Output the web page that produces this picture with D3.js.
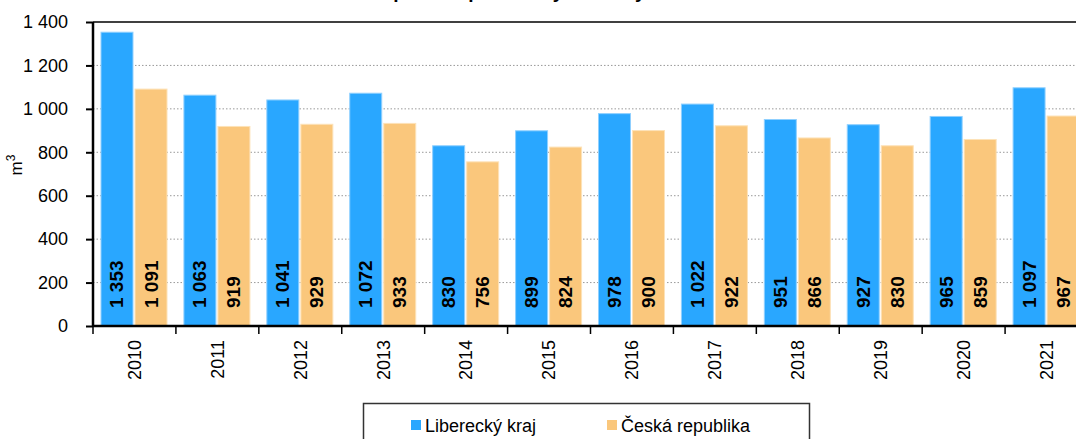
<!DOCTYPE html>
<html>
<head>
<meta charset="utf-8">
<script src="https://cdn.jsdelivr.net/npm/d3@7"></script>
<style>
  body { margin: 0; background: #fff; }
  svg { font-family: "Liberation Sans", Arial, sans-serif; display: block; }
  .grid line { stroke: #999; stroke-dasharray: 1.5 2; }
</style>
</head>
<body>
<div id="root"></div>
<script>
const years = ["2010", "2011", "2012", "2013", "2014", "2015", "2016", "2017", "2018", "2019", "2020", "2021"];
const liberec = [1353, 1063, 1041, 1072, 830, 899, 978, 1022, 951, 927, 965, 1097];
const cesko = [1091, 919, 929, 933, 756, 824, 900, 922, 866, 830, 859, 967];
const seriesNames = ["Liberecký kraj", "Česká republika"];
const colors = ["#29a7ff", "#fac77c"];
const yTicks = [0, 200, 400, 600, 800, 1000, 1200, 1400];

const outerWidth = 1076;
const outerHeight = 439;
const margin = { top: 22, left: 93, bottom: 113 };
const plotWidth = 995;
const height = outerHeight - margin.top - margin.bottom;

const fmt = v => d3.format(",")(v).replace(/,/g, " ");

let svg = d3.select("#root")
            .append("svg")
            .attr("width", outerWidth)
            .attr("height", outerHeight);

// title, mostly cut off by the top edge
svg.append("text")
   .attr("x", 540)
   .attr("y", -2)
   .attr("text-anchor", "middle")
   .style("font-size", "19px")
   .style("font-weight", "bold")
   .text("Spotřeba pitné vody na 1 obyvatele");

let chart = svg.append("g")
               .attr("transform", `translate(${margin.left}, ${margin.top})`);

let scaleY = d3.scaleLinear().domain([0, 1400]).range([height, 0]);
let scaleX = d3.scaleBand().domain(years).range([0, plotWidth]);
let scaleSub = d3.scaleBand().domain([0, 1]).range([8, 74]).paddingInner(0.06);

// gridlines
chart.append("g")
     .attr("class", "grid")
     .selectAll("line")
     .data(yTicks.filter(t => t > 0 && t < 1400))
     .enter().append("line")
       .attr("x1", 0)
       .attr("x2", plotWidth)
       .attr("y1", d => scaleY(d))
       .attr("y2", d => scaleY(d));

// bars
const rows = years.map((y, i) => ({ year: y, vals: [liberec[i], cesko[i]] }));
let group = chart.selectAll(".year")
                 .data(rows)
                 .enter().append("g")
                 .attr("class", "year")
                 .attr("transform", d => `translate(${scaleX(d.year)}, 0)`);

let bar = group.selectAll(".bar")
               .data(d => d.vals.map((v, k) => ({ v, k })))
               .enter().append("g")
               .attr("class", "bar");

bar.append("rect")
   .attr("x", d => scaleSub(d.k))
   .attr("width", scaleSub.bandwidth())
   .attr("y", d => scaleY(d.v))
   .attr("height", d => height - scaleY(d.v))
   .attr("fill", d => colors[d.k])
   .attr("stroke", d => d.k === 0 ? "#8fd0ff" : "#fde2b8")
   .attr("stroke-width", 1);

bar.append("text")
   .attr("transform", d => `translate(${scaleSub(d.k) + scaleSub.bandwidth() / 2 + 6.5}, ${height - 18}) rotate(-90)`)
   .style("font-size", "19px")
   .style("font-weight", "bold")
   .text(d => fmt(d.v));

// axes
let yAxis = d3.axisLeft(scaleY).tickValues(yTicks).tickSize(7).tickFormat(fmt);
let yG = chart.append("g").call(yAxis);
yG.select(".domain").remove();
yG.selectAll(".tick line").attr("stroke", "#000").attr("stroke-width", 2);
yG.selectAll(".tick text")
  .attr("x", -25)
  .style("font-size", "18px")
  .style("font-family", "Liberation Sans, Arial, sans-serif")
  .attr("fill", "#000");

let xAxis = d3.axisBottom(scaleX).tickSize(0).tickFormat(d => d);
let xG = chart.append("g")
              .attr("transform", `translate(0, ${height})`)
              .call(xAxis);
xG.select(".domain").remove();
xG.selectAll(".tick text")
  .attr("transform", "rotate(-90)")
  .attr("x", -14)
  .attr("y", 0)
  .attr("dy", "0.35em")
  .style("text-anchor", "end")
  .style("font-size", "18px")
  .style("font-family", "Liberation Sans, Arial, sans-serif")
  .attr("fill", "#000");

// category separator ticks
chart.append("g")
     .selectAll("line")
     .data(years.concat(["end"]))
     .enter().append("line")
       .attr("x1", (d, i) => i * scaleX.step())
       .attr("x2", (d, i) => i * scaleX.step())
       .attr("y1", height)
       .attr("y2", height + 8)
       .attr("stroke", "#000")
       .attr("stroke-width", 1.5);

// frame
chart.append("line").attr("x1", 0).attr("x2", plotWidth).attr("y1", height).attr("y2", height)
     .attr("stroke", "#000").attr("stroke-width", 2.5);
chart.append("line").attr("x1", 0).attr("x2", 0).attr("y1", 0).attr("y2", height)
     .attr("stroke", "#000").attr("stroke-width", 2.5);
chart.append("line").attr("x1", 0).attr("x2", plotWidth).attr("y1", 0).attr("y2", 0)
     .attr("stroke", "#000").attr("stroke-width", 1.5);

// y axis title
svg.append("text")
   .attr("transform", "translate(22, 165) rotate(-90)")
   .style("text-anchor", "middle")
   .style("font-size", "17px")
   .html("m<tspan dy='-7' font-size='12px'>3</tspan>");

// legend
let legend = svg.append("g");
legend.append("rect")
      .attr("x", 363.5)
      .attr("y", 403.5)
      .attr("width", 446)
      .attr("height", 50)
      .attr("fill", "none")
      .attr("stroke", "#333")
      .attr("stroke-width", 1.5);

const legendX = [411, 607];
seriesNames.forEach((name, i) => {
    legend.append("rect")
          .attr("x", legendX[i])
          .attr("y", 420)
          .attr("width", 10)
          .attr("height", 10)
          .attr("fill", colors[i]);
    legend.append("text")
          .attr("x", legendX[i] + 14)
          .attr("y", 432)
          .style("font-size", "18px")
          .text(name);
});
</script>
</body>
</html>
